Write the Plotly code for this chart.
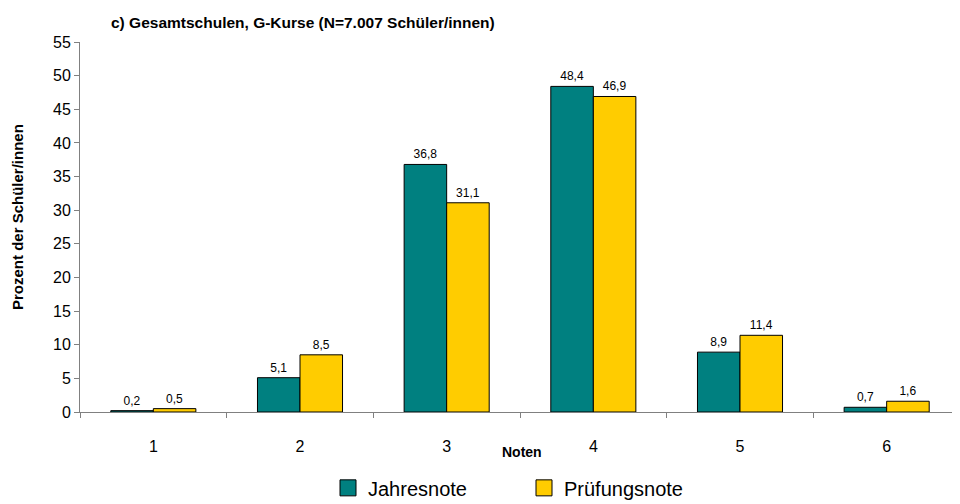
import plotly.graph_objects as go

categories = ["1", "2", "3", "4", "5", "6"]
jahresnote = [0.2, 5.1, 36.8, 48.4, 8.9, 0.7]
pruefungsnote = [0.5, 8.5, 31.1, 46.9, 11.4, 1.6]
series_names = ["Jahresnote", "Prüfungsnote"]
series_colors = ["#008080", "#FFCC00"]
y_ticks = list(range(0, 56, 5))

font_family = "Liberation Sans, Arial, sans-serif"

fig = go.Figure()
for name, vals, color in zip(series_names, [jahresnote, pruefungsnote], series_colors):
    fig.add_trace(go.Bar(
        x=categories, y=vals, name=name, showlegend=False,
        marker=dict(color=color, line=dict(color="black", width=1)),
        text=[f"{v:.1f}".replace(".", ",") for v in vals],
        textposition="outside", cliponaxis=False,
        textfont=dict(size=12, color="black", family=font_family),
    ))
# legend entries with larger square symbols
for name, color in zip(series_names, series_colors):
    fig.add_trace(go.Scatter(
        x=[None], y=[None], mode="markers", name=name,
        marker=dict(symbol="square", size=16, color=color,
                    line=dict(color="black", width=1)),
    ))

# page body has an 8px margin: figure is 8px smaller and everything shifted
fig.update_layout(
    width=952, height=496,
    margin=dict(l=72, r=0, t=34, b=92, autoexpand=False),
    paper_bgcolor="white", plot_bgcolor="white",
    barmode="group", bargap=0.42, bargroupgap=0,
    font=dict(family=font_family, color="black"),
    showlegend=True,
    legend=dict(orientation="h", x=(328-80)/880, xanchor="left", y=-0.205, yanchor="middle",
                font=dict(size=20), traceorder="normal", itemwidth=30,
                entrywidth=151, entrywidthmode="pixels", tracegroupgap=0),
)
fig.update_xaxes(
    type="category", tickson="boundaries", ticks="outside", ticklen=5,
    tickcolor="#808080", showline=True, linecolor="#808080", linewidth=1,
    tickfont=dict(size=16), showgrid=False, ticklabelstandoff=20,
    automargin=False,
)
fig.update_yaxes(
    range=[0, 55], tickvals=y_ticks, ticks="outside", ticklen=5,
    tickcolor="#808080", showline=True, linecolor="#808080", linewidth=1,
    tickfont=dict(size=16), showgrid=False, zeroline=False, automargin=False,
)
fig.add_annotation(text="<b>Prozent der Schüler/innen</b>", textangle=-90,
                   xref="paper", yref="paper", x=0, xshift=-63, y=(412-217)/370,
                   xanchor="center", yanchor="middle", showarrow=False,
                   font=dict(size=15))
fig.add_annotation(text="<b>c) Gesamtschulen, G-Kurse (N=7.007 Schüler/innen)</b>",
                   xref="paper", yref="paper", x=(109-80)/880, y=1, yshift=20,
                   xanchor="left", yanchor="middle", showarrow=False,
                   font=dict(size=15.5))
fig.add_annotation(text="<b>Noten</b>", xref="paper", yref="paper",
                   x=(522-80)/880, y=0, yshift=-40, xanchor="center", yanchor="middle",
                   showarrow=False, font=dict(size=14))

fig.write_html("out.html")
